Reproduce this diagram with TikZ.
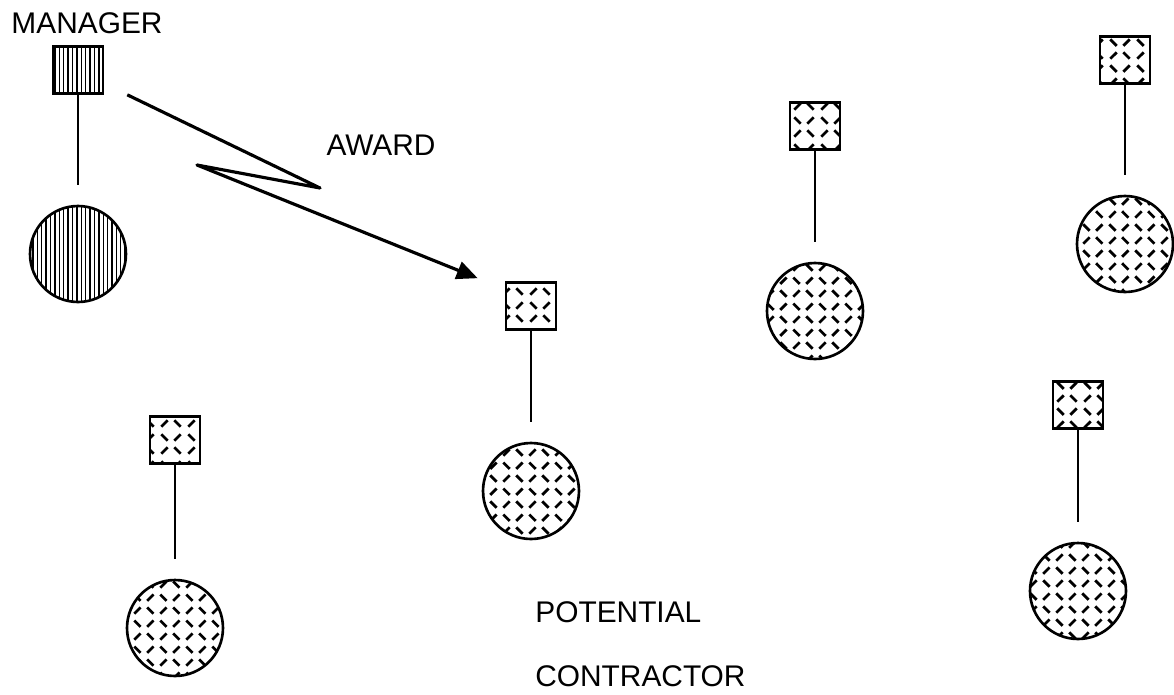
\documentclass[tikz,border=0pt]{standalone}
\usepackage{fontspec}
\setmainfont{Liberation Sans}
\usetikzlibrary{patterns,arrows.meta}

\pgfdeclarepatternformonly{fine vertical lines}{\pgfqpoint{0pt}{-1pt}}{\pgfqpoint{2.5pt}{1pt}}{\pgfqpoint{2.5pt}{1pt}}{%
  \pgfsetlinewidth{0.8pt}
  \pgfpathmoveto{\pgfqpoint{1.25pt}{-1pt}}
  \pgfpathlineto{\pgfqpoint{1.25pt}{1pt}}
  \pgfusepath{stroke}
}
\pgfdeclarepatternformonly{diamond plate}{\pgfqpoint{0pt}{0pt}}{\pgfqpoint{15pt}{15pt}}{\pgfqpoint{15pt}{15pt}}{%
  \pgfsetlinewidth{1.6pt}
  \pgfpathmoveto{\pgfqpoint{1.9pt}{1.9pt}}\pgfpathlineto{\pgfqpoint{5.6pt}{5.6pt}}
  \pgfpathmoveto{\pgfqpoint{9.4pt}{5.6pt}}\pgfpathlineto{\pgfqpoint{13.1pt}{1.9pt}}
  \pgfpathmoveto{\pgfqpoint{1.9pt}{13.1pt}}\pgfpathlineto{\pgfqpoint{5.6pt}{9.4pt}}
  \pgfpathmoveto{\pgfqpoint{9.4pt}{9.4pt}}\pgfpathlineto{\pgfqpoint{13.1pt}{13.1pt}}
  \pgfusepath{stroke}
}

\begin{document}
\begin{tikzpicture}[x=0.02cm, y=-0.02cm,
    box/.style={draw, line width=1.5pt, minimum width=1cm, minimum height=0.94cm, inner sep=0pt},
    disk/.style={draw, circle, line width=1.5pt, minimum size=1.92cm, inner sep=0pt},
    mgrfill/.style={pattern=fine vertical lines},
    ctrfill/.style={pattern=diamond plate},
    link/.style={line width=1.2pt, shorten >=0.4cm},
    award/.style={line width=1.8pt, line join=round, -{Triangle[length=0.42cm,width=0.36cm]}},
    lbl/.style={font=\fontsize{17}{20}\selectfont, inner sep=0pt}]

  \useasboundingbox (0,0) rectangle (1174,694);

  % manager
  \node[lbl] (mgrname) at (87,23) {MANAGER};
  \node[box, mgrfill] (mgr) at (78,70) {};
  \node[disk, mgrfill] (mgrbody) at (78,254) {};
  \draw[link] (mgr) -- (mgrbody);

  % contractors
  \foreach \n/\x/\y/\yy in {c1/531/306/491, c2/815/126/311, c3/1125/60/244, c4/1078/405/591, c5/175/440/628}{
    \node[box, ctrfill] (\n) at (\x,\y) {};
    \node[disk, ctrfill] (\n body) at (\x,\yy) {};
    \draw[link] (\n) -- (\n body);
  }

  % award message
  \coordinate (zigA) at (320,188);
  \coordinate (zigB) at (197,165);
  \draw[award] ([shift={(23,0)}]mgr.south east) -- (zigA) -- (zigB) -- ([shift={(-27,-3)}]c1.north west);
  \node[lbl] (awardname) at (381,145) {AWARD};

  \node[lbl, anchor=west] (potential) at (535,612) {POTENTIAL};
  \node[lbl, anchor=west] (contractor) at (535,676) {CONTRACTOR};
\end{tikzpicture}
\end{document}
